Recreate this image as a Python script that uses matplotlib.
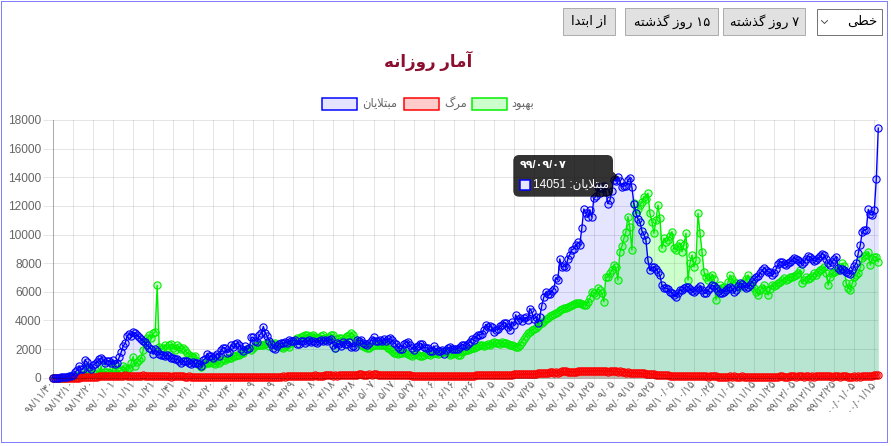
import re
import numpy as np
import matplotlib
matplotlib.use('Agg')
import matplotlib.pyplot as plt
from matplotlib.patches import Rectangle, FancyBboxPatch, Polygon

plt.rcParams['font.family'] = ['Liberation Sans', 'DejaVu Sans']

W, H = 891, 446

# daily values, 98/11/30 .. 00/01/17 (one row per month)
confirmed = [
    2, 3, 13, 10, 15, 18, 34, 44, 106, 143, 205,
    385, 523, 835, 586, 591, 1234, 1076, 743, 595, 881, 958, 1075, 1289, 1365, 1209, 1053, 1178, 1192, 1046, 1237,
    966, 1028, 1411, 1762, 2206, 2389, 2926, 3076, 2901, 3186, 3110,
    2987, 2875, 2715, 2560, 2483, 2274, 2089, 1997, 1634, 1972, 1837, 1657, 1617, 1574, 1512, 1606, 1499, 1374, 1343, 1294,
    1297, 1194, 1030, 1168, 1134, 1153, 1006, 991, 1073, 993,
    1006, 976, 802, 1223, 1323, 1680, 1485, 1529, 1383, 1529, 1683, 1481, 1958, 2080, 2102, 1757, 1806, 2294, 2111, 2346,
    2392, 2311, 2023, 1869, 2180, 2023, 2080, 2819, 2819, 2596, 2516,
    2979, 3117, 3574, 3134, 2886, 2596, 2364, 2095, 2011, 2238, 2369, 2410, 2410, 2472, 2449, 2612, 2563, 2596, 2615, 2322,
    2368, 2573, 2531, 2445, 2595, 2628, 2489, 2536, 2489, 2457,
    2549, 2652, 2560, 2613, 2560, 2637, 2691, 2262, 2082, 2397, 2349, 2186, 2521, 2388, 2379, 2500, 2166, 2182, 2166, 2625,
    2586, 2621, 2444, 2333, 2316, 2434, 2667, 2820, 2574, 2549, 2621,
    2548, 2685, 2598, 2697, 2751, 2634, 2450, 2388, 2125, 2020, 2016, 2345, 2444, 2521, 2262, 2102, 1960, 2133, 2206, 2385,
    2386, 2125, 2076, 2100, 1869, 1852, 2213, 1983, 1899, 1867, 1931,
    1682, 1952, 2063, 2121, 2021, 1986, 2012, 2035, 2139, 2313, 2292, 2206, 2379, 2502, 2705, 2665, 2864, 2949, 2989, 3049,
    3341, 3712, 3563, 3600, 3521, 3204, 3362, 3392, 3582, 3677,
    3825, 3830, 3570, 3340, 3902, 3653, 4392, 4019, 4142, 3962, 4151, 4206, 4030, 4830, 4616, 4103, 4251, 3822, 4251, 5039,
    5616, 5960, 5863, 5814, 6070, 6191, 6968, 6824, 8293, 7719, 7820,
    7719, 8289, 8600, 8932, 9000, 9236, 9450, 9300, 10463, 11780, 11500, 11200, 11737, 11223, 12543, 12661, 13352, 12931,
    13223, 13421, 13000, 12151, 12400, 13053, 13843, 13721, 14051, 13762, 13321, 13402,
    13400, 13800, 13950, 13300, 12150, 11500, 11100, 10900, 10250, 10000, 9600, 8200, 7500, 7700, 7750, 7600, 7400, 7150,
    6450, 6300, 6250, 6200, 6000, 5900, 5750, 5650, 5900, 6150, 6100, 6250, 6350,
    6350, 6200, 6050, 6000, 6150, 6300, 6380, 6150, 5950, 5900, 6100, 6300, 6450, 6400, 6250, 6050, 5950, 5900, 6000, 6150,
    6300, 6350, 6200, 6000, 6100, 6400, 6600, 6550, 6400, 6300, 6350,
    6500, 6700, 6900, 7000, 7100, 7300, 7500, 7650, 7550, 7400, 7350, 7200, 7300, 7600, 7950, 8100, 8050, 7950, 7900, 8000,
    8100, 8250, 8350, 8300, 8200, 8050, 7950, 8100,
    8300, 8500, 8450, 8300, 8150, 8200, 8350, 8500, 8650, 8600, 8300, 8000, 7900, 8100, 8300, 8450, 7650, 7500, 7600, 7500,
    7400, 7300, 7250, 7500, 7800, 8000, 8700, 9250, 10200, 10300, 10350,
    11750, 11400, 11350, 11700, 13890, 17430,
]

deaths = [
    2, 0, 2, 1, 1, 4, 3, 3, 7, 8, 9,
    11, 12, 11, 15, 15, 17, 21, 49, 43, 54, 63, 75, 85, 97, 113, 129, 135, 147, 149, 149, 123, 129, 127, 122, 143, 157,
    144, 139, 123, 117, 141,
    138, 124, 134, 158, 136, 133, 121, 133, 117, 122, 125, 117, 111, 98, 94, 92, 89, 73, 87, 91, 88, 94, 90, 93, 76, 60,
    96, 71, 80, 71,
    74, 63, 47, 74, 68, 78, 45, 65, 55, 48, 45, 35, 50, 71, 48, 51, 35, 69, 62, 66, 51, 48, 58, 34, 50, 57, 56, 63, 50,
    52, 57,
    81, 64, 70, 59, 75, 72, 70, 80, 81, 74, 71, 78, 107, 71, 113, 115, 120, 87, 120, 116, 119, 121, 119, 133, 134, 144,
    125, 109, 162, 147,
    148, 141, 147, 163, 160, 163, 200, 153, 221, 142, 188, 179, 203, 183, 179, 192, 196, 195, 188, 199, 229, 229, 221,
    215, 216, 235, 212, 235, 226, 206, 194,
    201, 212, 208, 215, 212, 189, 174, 156, 174, 189, 163, 182, 169, 174, 175, 143, 153, 147, 131, 121, 123, 124, 102,
    108, 101, 109, 103, 119, 117, 126, 110,
    115, 113, 124, 109, 119, 100, 113, 115, 124, 115, 144, 151, 143, 137, 144, 146, 174, 184, 176, 165, 177, 184, 186,
    178, 175, 171, 180, 187, 184, 221,
    189, 204, 208, 182, 195, 239, 235, 234, 233, 251, 253, 272, 254, 279, 251, 244, 263, 322, 337, 322, 335, 346, 305,
    379, 432, 337, 428, 346, 387, 440, 434,
    434, 420, 410, 413, 405, 412, 434, 454, 457, 458, 462, 434, 481, 444, 482, 486, 482, 479, 480, 479, 435, 431, 475,
    469, 439, 451, 413, 434, 407, 391,
    362, 380, 359, 357, 321, 330, 308, 324, 300, 299, 280, 268, 255, 251, 237, 221, 206, 187, 175, 174, 171, 162, 153,
    130, 123, 150, 131, 135, 123, 111, 114,
    98, 92, 88, 89, 86, 84, 84, 84, 88, 90, 74, 85, 85, 88, 94, 73, 81, 73, 82, 72, 83, 84, 80, 86, 75, 72, 81, 88, 71,
    70, 80,
    72, 73, 62, 67, 71, 65, 66, 68, 72, 74, 68, 69, 69, 82, 65, 84, 87, 80, 77, 73, 84, 88, 84, 73, 94, 90, 94, 77,
    85, 88, 76, 87, 79, 99, 86, 85, 84, 92, 91, 96, 98, 77, 88, 87, 84, 83, 92, 88, 84, 79, 78, 76, 90, 82, 102, 75,
    101, 103, 96,
    121, 129, 109, 161, 185, 193,
]

recovered = [
    0, 0, 0, 0, 0, 0, 0, 50, 50, 60, 75,
    100, 120, 140, 260, 190, 170, 760, 470, 260, 340, 230, 320, 250, 810, 250, 410, 390, 320, 270, 770,
    890, 280, 460, 540, 800, 680, 550, 710, 1000, 1470, 820,
    1100, 1240, 1350, 1930, 2480, 2750, 2980, 2800, 3100, 3200, 6450, 2150, 2000, 2100, 2300, 2050, 2250, 2350, 2100, 1950,
    2300, 2150, 2000, 2050, 1900, 1700, 1600, 1500, 1450, 1550,
    1200, 900, 780, 900, 1120, 1000, 1050, 1100, 1000, 950, 1150, 1000, 1200, 1300, 1250, 1350, 1400, 1350, 1500, 1550,
    1600, 1590, 1700, 1750, 1900, 2000, 2050, 1950, 2100, 2200, 2250,
    2300, 2250, 2280, 2350, 2400, 2200, 2400, 2350, 2420, 2300, 2200, 2150, 2100, 2200, 2250, 2170, 2400, 2500, 2600, 2750,
    2700, 2860, 2900, 2950, 2980, 2850, 2900, 3000, 2850, 2750,
    2800, 2900, 2950, 2800, 2700, 2850, 2980, 3000, 2100, 2700, 2750, 2800, 2600, 2750, 2900, 2980, 3100, 3000, 2700, 2500,
    2450, 2300, 2200, 2150, 2050, 2100, 2200, 2250, 2300, 2250, 2280,
    2250, 2300, 2200, 2100, 2000, 1850, 1750, 1700, 1650, 1700, 1750, 1800, 1700, 1650, 1600, 1550, 1650, 1700, 1600, 1550,
    1500, 1600, 1700, 1650, 1600, 1700, 1750, 1700, 1650, 1750, 1800,
    1800, 1850, 1700, 1600, 1650, 1750, 1700, 1600, 1590, 1800, 1850, 1950, 1930, 2000, 2100, 2050, 2150, 2200, 2250, 2300,
    2200, 2280, 2350, 2300, 2400, 2500, 2450, 2400, 2350, 2500,
    2450, 2400, 2350, 2300, 2250, 2200, 2150, 2170, 2300, 2500, 2700, 2900, 3100, 3200, 3300, 3400, 3500, 3600, 3800, 3850,
    3950, 4100, 4200, 4300, 4400, 4450, 4500, 4600, 4700, 4800, 4850,
    4850, 4950, 5000, 5100, 5150, 5200, 5250, 5200, 5150, 5100, 5080, 5300, 5550, 6010, 5950, 5800, 6240, 6100, 5900, 5310,
    7050, 7000, 7290, 7500, 7870, 7700, 6820, 8800, 9200, 9740,
    10200, 11250, 10500, 8920, 12180, 11480, 11800, 12060, 12300, 12640, 12500, 12880, 11480, 10900, 10090, 11000, 12060,
    11130, 9040, 9740, 9500, 9620, 9900, 10200, 9040, 8920, 9200, 9390, 8800, 9300, 10090,
    6820, 8000, 8570, 7750, 8200, 11480, 10090, 8800, 7400, 7000, 6820, 7000, 7170, 6900, 5430, 6200, 6470, 6300, 6360, 6130,
    6700, 7170, 6900, 6710, 6600, 6500, 6360, 6500, 6700, 6900, 7170,
    6800, 6500, 6240, 6000, 5780, 6100, 6300, 6470, 6100, 5780, 6200, 6470, 6400, 6500, 6590, 6700, 6800, 6940, 6850, 6900,
    7050, 7000, 7100, 7170, 7300, 7520, 6590, 6800,
    7000, 6900, 6940, 7100, 7290, 7200, 7400, 7520, 7600, 7750, 7300, 6470, 7000, 7290, 7400, 7450, 7520, 7700, 7990, 7800,
    6590, 6300, 6120, 6600, 7050, 7200, 7290, 7700, 8340, 8500, 8600,
    8800, 7870, 8300, 8450, 8450, 8110,
]

assert len(confirmed) == len(deaths) == len(recovered) == 413, (len(confirmed), len(deaths), len(recovered))

tick_labels = ['۹۸/۱۱/۳۰', '۹۸/۱۲/۱۰', '۹۸/۱۲/۲۰', '۹۹/۰۱/۰۱', '۹۹/۰۱/۱۱', '۹۹/۰۱/۲۱', '۹۹/۰۱/۳۱',
               '۹۹/۰۲/۱۰', '۹۹/۰۲/۲۰', '۹۹/۰۲/۳۰', '۹۹/۰۳/۰۹', '۹۹/۰۳/۱۹', '۹۹/۰۳/۲۹', '۹۹/۰۴/۰۸',
               '۹۹/۰۴/۱۸', '۹۹/۰۴/۲۸', '۹۹/۰۵/۰۷', '۹۹/۰۵/۱۷', '۹۹/۰۵/۲۷', '۹۹/۰۶/۰۶', '۹۹/۰۶/۱۶',
               '۹۹/۰۶/۲۶', '۹۹/۰۷/۰۵', '۹۹/۰۷/۱۵', '۹۹/۰۷/۲۵', '۹۹/۰۸/۰۵', '۹۹/۰۸/۱۵', '۹۹/۰۸/۲۵',
               '۹۹/۰۹/۰۵', '۹۹/۰۹/۱۵', '۹۹/۰۹/۲۵', '۹۹/۱۰/۰۵', '۹۹/۱۰/۱۵', '۹۹/۱۰/۲۵', '۹۹/۱۱/۰۵',
               '۹۹/۱۱/۱۵', '۹۹/۱۱/۲۵', '۹۹/۱۲/۰۵', '۹۹/۱۲/۱۵', '۹۹/۱۲/۲۵', '۰۰/۰۱/۰۵', '۰۰/۰۱/۱۵']
series_names = ['مبتلایان', 'مرگ', 'بهبود']
chart_title = 'آمار روزانه'
button_texts = ['از ابتدا', '۱۵ روز گذشته', '۷ روز گذشته']
select_text = 'خطی'
tooltip_index = 282
tooltip_date = '۹۹/۰۹/۰۷'

# --- simple persian shaping (matplotlib has no arabic shaping / bidi) ---
# forms: isolated, final, initial, medial
DUAL = {'ب': '\uFE8F\uFE90\uFE91\uFE92', 'ت': '\uFE95\uFE96\uFE97\uFE98', 'خ': '\uFEA5\uFEA6\uFEA7\uFEA8',
        'ش': '\uFEB5\uFEB6\uFEB7\uFEB8', 'ط': '\uFEC1\uFEC2\uFEC3\uFEC4', 'ل': '\uFEDD\uFEDE\uFEDF\uFEE0',
        'م': '\uFEE1\uFEE2\uFEE3\uFEE4', 'ن': '\uFEE5\uFEE6\uFEE7\uFEE8', 'ه': '\uFEE9\uFEEA\uFEEB\uFEEC',
        'ی': '\uFEEF\uFEF0\uFEF3\uFEF4', 'گ': '\uFB92\uFB93\uFB94\uFB95'}
RIGHT = {'ا': '\uFE8D\uFE8E', 'آ': '\uFE81\uFE82', 'د': '\uFEA9\uFEAA', 'ذ': '\uFEAB\uFEAC',
         'ر': '\uFEAD\uFEAE', 'ز': '\uFEAF\uFEB0', 'و': '\uFEED\uFEEE'}


def shape(s):
    out = []
    i = 0
    while i < len(s):
        c = s[i]
        prev = s[i - 1] if i > 0 else ''
        nxt = s[i + 1] if i + 1 < len(s) else ''
        jp = prev in DUAL and (c in DUAL or c in RIGHT)
        if c == 'ل' and nxt == 'ا':
            out.append('\uFEFC' if jp else '\uFEFB')
            i += 2
            continue
        if c in DUAL:
            jn = nxt in DUAL or nxt in RIGHT
            out.append(DUAL[c][3 if jp and jn else 1 if jp else 2 if jn else 0])
        elif c in RIGHT:
            out.append(RIGHT[c][1 if jp else 0])
        else:
            out.append(c)
        i += 1
    return ''.join(out)


def rtl(s):
    rev = shape(s)[::-1]
    return re.sub(r'[0-9۰-۹]+', lambda m: m.group(0)[::-1], rev)


PX = 0.72  # one pixel in points at dpi 100

fig = plt.figure(figsize=(W / 100, H / 100), dpi=100)
x0, x1, y_top, y_bot = 53, 878.3, 120, 377.7
ax = fig.add_axes([x0 / W, (H - y_bot) / H, (x1 - x0) / W, (y_bot - y_top) / H])

x = np.arange(len(confirmed))
ax.fill_between(x, 0, recovered, color=(0, 1, 0, 0.2), lw=0, zorder=1)
ax.fill_between(x, 0, deaths, color=(1, 0, 0, 0.2), lw=0, zorder=1.1)
ax.fill_between(x, 0, confirmed, color=(0, 0, 1, 0.1), lw=0, zorder=1.2)

styles = [(recovered, '#00ee00', (0, 1, 0, 0.2), 2),
          (deaths, '#ff0000', (1, 0, 0, 0.2), 2.1),
          (confirmed, '#0000ff', (0, 0, 1, 0.1), 2.2)]
for vals, c, fc, z in styles:
    ax.plot(x, vals, color=c, lw=1.0, marker='o', ms=5.2, mfc=fc, mec=c, mew=0.8,
            zorder=z, clip_on=False)

ax.set_xlim(0, len(confirmed) - 1)
ax.set_ylim(0, 18000)
ax.set_yticks(range(0, 18001, 2000))
ax.set_xticks(np.arange(len(tick_labels)) * 10)
ax.set_xticklabels(tick_labels, rotation=50, ha='right', va='center', rotation_mode='anchor',
                   fontsize=7.6, color='#666666')
ax.tick_params(axis='y', labelsize=8.6, labelcolor='#666666', pad=1)
ax.tick_params(length=10 * PX, width=PX, color='#e6e6e6')
ax.tick_params(axis='x', pad=-4)
ax.grid(True, color='black', alpha=0.1, lw=PX)
ax.set_axisbelow(True)
for side in ['top', 'right']:
    ax.spines[side].set_visible(False)
for side in ['left', 'bottom']:
    ax.spines[side].set_color((0, 0, 0, 0.25))
    ax.spines[side].set_linewidth(PX)
ax.patch.set_alpha(0)

# overlay in pixel coordinates: title, legend, buttons, tooltip, frame
ov = fig.add_axes([0, 0, 1, 1], zorder=10)
ov.set_xlim(0, W)
ov.set_ylim(H, 0)
ov.axis('off')
ov.patch.set_alpha(0)

ov.text(428, 61, rtl(chart_title), ha='center', va='center', fontsize=12, fontweight='bold',
        color='#8b1030')

legend_items = [(series_names[0], '#0000ff', (0, 0, 1, 0.1), 321.7),
                (series_names[1], '#ff0000', (1, 0, 0, 0.2), 404.3),
                (series_names[2], '#00ee00', (0, 1, 0, 0.2), 471.7)]
for name, ec, fc, bx in legend_items:
    ov.add_patch(Rectangle((bx, 98.3), 35, 11.7, fc=fc, ec=ec, lw=1.5 * PX))
    ov.text(bx + 40, 104, rtl(name), ha='left', va='center', fontsize=8.3, color='#666666')

button_boxes = [(563.3, 615), (625, 718.3), (723.3, 805)]
for label, (bx0, bx1) in zip(button_texts, button_boxes):
    ov.add_patch(Rectangle((bx0, 8.3), bx1 - bx0, 26.7, fc='#e1e1e1', ec='#adadad', lw=PX))
    ov.text((bx0 + bx1) / 2, 21.5, rtl(label), ha='center', va='center', fontsize=9.5, color='black')

ov.add_patch(Rectangle((816.7, 9), 65, 26, fc='white', ec='#767676', lw=PX))
ov.plot([821.5, 824.5, 827.5], [20.5, 23.5, 20.5], color='#333333', lw=0.6)
ov.text(877, 22, rtl(select_text), ha='right', va='center', fontsize=9.5, color='black')

# tooltip
ty = y_bot - confirmed[tooltip_index] / 18000 * (y_bot - y_top)
ov.add_patch(FancyBboxPatch((513.3, 155), 99.7, 41.7, boxstyle='round,pad=0,rounding_size=6',
                            fc=(0, 0, 0, 0.8), ec='none'))
ov.add_patch(Polygon([(613, ty - 5), (618, ty), (613, ty + 5)], closed=True,
                     fc=(0, 0, 0, 0.8), ec='none'))
ov.text(519.5, 164.5, tooltip_date, ha='left', va='center', fontsize=8, fontweight='bold', color='white')
ov.add_patch(Rectangle((520, 179.5), 10, 10, fc='#e6e6ff', ec='#0000ff', lw=1.5 * PX))
ov.text(533, 185, rtl(series_names[0] + ': ' + str(confirmed[tooltip_index])), ha='left', va='center',
        fontsize=8.6, color='white')

# dotted page frame
ov.add_patch(Rectangle((0.5, 0.5), 886.5, 441.5, fill=False, ec='#0000ff', lw=PX, ls=(0, (1, 1)),
                       clip_on=False))

fig.savefig('out.png', dpi=100)
